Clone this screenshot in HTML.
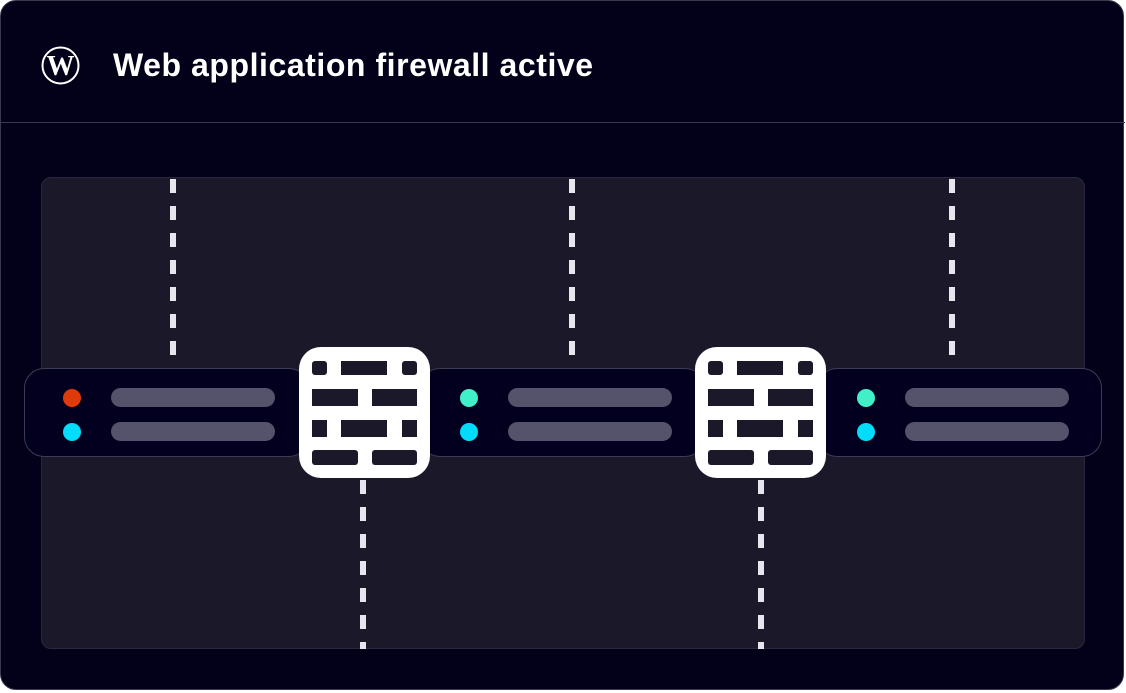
<!DOCTYPE html>
<html><head><style>
html,body{margin:0;padding:0;background:#fff;}
body{width:1126px;height:693px;position:relative;overflow:hidden;font-family:"Liberation Sans",sans-serif;}
.frame{position:absolute;left:0;top:0;width:1124px;height:690px;background:#03011a;border:1px solid #3a3850;border-radius:16px;box-sizing:border-box;}
.hline{position:absolute;left:1px;top:122px;width:1124px;height:1px;background:#3a3850;}
.title{position:absolute;left:113px;top:47px;color:#fff;font-size:32px;font-weight:bold;letter-spacing:0.55px;}
.panel{position:absolute;left:41px;top:177px;width:1044px;height:472px;background:#1a1829;border:1px solid #2a283c;border-radius:10px;box-sizing:border-box;}
.card{position:absolute;top:368px;height:89px;background:#02001e;border:1px solid #3d3b55;border-radius:20px;box-sizing:border-box;}
.dot{position:absolute;width:18px;height:18px;border-radius:50%;}
.bar{position:absolute;width:164px;height:19px;border-radius:9.5px;background:#55536b;}
</style></head><body>
<div class="frame"></div>
<div class="hline"></div>
<svg style="position:absolute;left:41px;top:46px" width="39" height="39" viewBox="0 0 39 39">
<circle cx="19.5" cy="19.5" r="18" fill="none" stroke="#fff" stroke-width="2"/>
<text x="19.5" y="29" text-anchor="middle" fill="#fff" font-family="Liberation Serif" font-weight="bold" font-size="28">W</text>
</svg>
<div class="title">Web application firewall active</div>
<div class="panel"></div>
<svg style="position:absolute;left:0;top:0" width="1126" height="693">
<g stroke="#e6e6ee" stroke-width="6" stroke-dasharray="14 13">
<line x1="173" y1="179" x2="173" y2="355"/>
<line x1="572" y1="179" x2="572" y2="355"/>
<line x1="952" y1="179" x2="952" y2="355"/>
<line x1="363" y1="480" x2="363" y2="649"/>
<line x1="761" y1="480" x2="761" y2="649"/>
</g>
</svg>
<div class="card" style="left:24px;width:285px"></div>
<div class="card" style="left:420px;width:285px"></div>
<div class="card" style="left:817px;width:285px"></div>
<div class="dot" style="left:63px;top:389px;background:#e03a0a"></div>
<div class="dot" style="left:63px;top:423px;background:#00dcfa"></div>
<div class="bar" style="left:111px;top:388px"></div>
<div class="bar" style="left:111px;top:422px"></div>
<div class="dot" style="left:460px;top:389px;background:#3ff0c8"></div>
<div class="dot" style="left:460px;top:423px;background:#00dcfa"></div>
<div class="bar" style="left:508px;top:388px"></div>
<div class="bar" style="left:508px;top:422px"></div>
<div class="dot" style="left:857px;top:389px;background:#3ff0c8"></div>
<div class="dot" style="left:857px;top:423px;background:#00dcfa"></div>
<div class="bar" style="left:905px;top:388px"></div>
<div class="bar" style="left:905px;top:422px"></div>
<svg style="position:absolute;left:299px;top:347px" width="131" height="131" viewBox="0 0 131 131">
<rect x="0" y="0" width="131" height="131" rx="22" fill="#fff"/>
<g fill="#1a1829">
<rect x="13" y="14" width="15" height="14" rx="3"/><rect x="42" y="14" width="46" height="14"/><rect x="103" y="14" width="15" height="14" rx="3"/>
<rect x="13" y="42" width="46" height="17"/><rect x="73" y="42" width="45" height="17"/>
<rect x="13" y="73" width="15" height="17"/><rect x="42" y="73" width="46" height="17"/><rect x="103" y="73" width="15" height="17"/>
<rect x="13" y="103" width="46" height="15" rx="3"/><rect x="73" y="103" width="45" height="15" rx="3"/>
</g></svg>
<svg style="position:absolute;left:695px;top:347px" width="131" height="131" viewBox="0 0 131 131">
<rect x="0" y="0" width="131" height="131" rx="22" fill="#fff"/>
<g fill="#1a1829">
<rect x="13" y="14" width="15" height="14" rx="3"/><rect x="42" y="14" width="46" height="14"/><rect x="103" y="14" width="15" height="14" rx="3"/>
<rect x="13" y="42" width="46" height="17"/><rect x="73" y="42" width="45" height="17"/>
<rect x="13" y="73" width="15" height="17"/><rect x="42" y="73" width="46" height="17"/><rect x="103" y="73" width="15" height="17"/>
<rect x="13" y="103" width="46" height="15" rx="3"/><rect x="73" y="103" width="45" height="15" rx="3"/>
</g></svg>
</body></html>
